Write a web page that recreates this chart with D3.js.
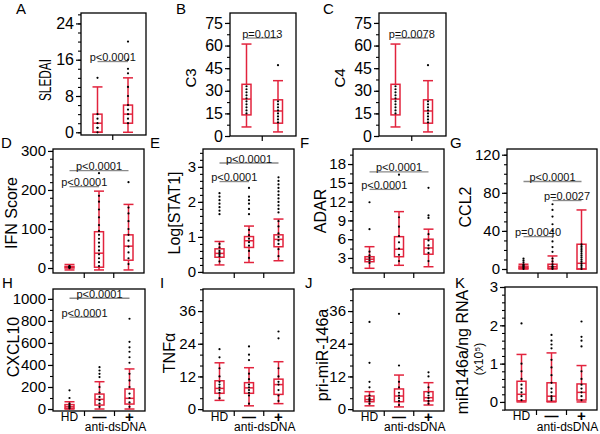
<!DOCTYPE html>
<html><head><meta charset="utf-8">
<script src="https://cdn.jsdelivr.net/npm/d3@7"></script>
<style>body{margin:0;background:#fff} svg{display:block}</style>
</head><body>
<script>
// ---------------- DATA ----------------
const groups2 = ["anti-dsDNA −", "anti-dsDNA +"];
const groups3 = ["HD", "anti-dsDNA −", "anti-dsDNA +"];
const xTickLabels = ["HD", "—", "+"];
const xGroupTitle = "anti-dsDNA";

// box stats: [lowWhisker, Q1, median, Q3, highWhisker]
const sledaiTicks = [0, 8, 16, 24];
const sledaiBox = [[0, 0, 2, 4, 10], [0, 2, 4, 6, 12]];
const sledaiPts = [[0, 1, 1, 2, 3, 4], [2, 3, 4, 5, 6, 8, 10]];
const sledaiOut = [[12], [13, 14, 16, 20]];
const sledaiP = [[0, 1, 15.6, "p<0.0001"]];

const c3Ticks = [0, 15, 30, 45, 60, 75];
const c3Box = [[6, 14, 24.5, 34.3, 61], [2.7, 8.5, 16.6, 24, 36.7]];
const c3Pts = [[15, 17, 19, 21, 23, 25, 27, 29, 31, 33], [9, 11, 13, 15, 17, 19, 21, 23]];
const c3Out = [[], [47]];
const c3P = [[0, 1, 65, "p=0.013"]];

const c4Ticks = [0, 15, 30, 45, 60, 75];
const c4Box = [[6, 14, 24.5, 34.3, 61], [2.7, 8.5, 16.6, 24, 36.7]];
const c4Pts = [[15, 17, 19, 21, 23, 25, 27, 29, 31, 33], [9, 11, 13, 15, 17, 19, 21, 23]];
const c4Out = [[], [47]];
const c4P = [[0, 1, 65, "p=0.0078"]];

const ifnTicks = [0, 100, 200, 300];
const ifnBox = [[-5, 0, 2, 4, 9], [-5, 2, 38, 93, 197], [-5, 20, 56, 85, 163]];
const ifnPts = [[0, 1, 2, 3, 4, 5], [5, 15, 25, 35, 45, 55, 65, 75, 85, 95, 110, 130, 150, 170, 185], [10, 25, 40, 55, 70, 85, 100, 120, 140, 155]];
const ifnOut = [[], [243], [220]];
const ifnP = [[0, 2, 249.5, "p<0.0001"], [0, 1, 208.5, "p<0.0001"]];

const stat1Ticks = [0, 1, 2, 3];
const stat1Box = [[0.2, 0.42, 0.53, 0.66, 0.87], [0.27, 0.7, 0.89, 1.01, 1.31], [0.32, 0.72, 0.93, 1.06, 1.51]];
const stat1Pts = [[0.3, 0.45, 0.5, 0.55, 0.6, 0.7, 0.8], [0.4, 0.6, 0.75, 0.85, 0.95, 1.05, 1.2], [0.45, 0.65, 0.8, 0.9, 1.0, 1.1, 1.3, 1.45]];
const stat1Out = [[1.65, 1.75, 1.85, 1.95, 2.05, 2.15, 2.25], [1.65, 1.8, 1.95, 2.05, 2.15, 2.4], [1.7, 1.8, 1.9, 2.0, 2.1, 2.2, 2.3, 2.4, 2.5, 2.6, 2.7]];
const stat1P = [[0, 2, 3.11, "p<0.0001"], [0, 1, 2.58, "p<0.0001"]];

const adarTicks = [3, 6, 9, 12, 15, 18];
const adarBox = [[1.35, 2.4, 2.8, 3.2, 4.8], [1.83, 3.2, 4.4, 6.4, 10.4], [1.6, 3.6, 4.6, 6.0, 7.6]];
const adarPts = [[2.2, 2.6, 3.0, 3.4, 4.0], [2.5, 3.5, 4.5, 5.5, 6.5, 8, 9.5], [2.5, 3.8, 4.5, 5, 5.8, 6.8]];
const adarOut = [[7.6, 11.9], [16.3], [9.4, 9.8, 14.2]];
const adarP = [[0, 2, 16.76, "p<0.0001"], [0, 1, 13.95, "p<0.0001"]];

const ccl2Ticks = [0, 40, 80, 120];
const ccl2Box = [[0, 0.5, 1.5, 3, 5], [0, 0.7, 2.5, 5, 13.7], [0, 0, 6, 26, 62]];
const ccl2Pts = [[0, 1, 2, 3, 4, 5], [0, 1, 2, 3, 5, 8, 11], [0, 2, 4, 6, 8, 10, 12, 14, 16, 18, 20, 22, 24, 26]];
const ccl2Out = [[7, 9, 11], [18, 23, 29, 34, 40, 47, 55, 62, 68], []];
const ccl2P = [[0, 2, 91.9, "p<0.0001"], [1, 2, 71.9, "p=0.0027"], [0, 1, 34, "p=0.0040"]];

const cxcl10Ticks = [0, 200, 400, 600, 800, 1000];
const cxcl10Box = [[0, 5, 20, 40, 66], [0, 36, 88, 136, 248], [0, 45, 97, 182, 364]];
const cxcl10Pts = [[5, 15, 25, 35, 50], [20, 50, 80, 110, 150, 200], [20, 60, 100, 140, 200, 260, 320]];
const cxcl10Out = [[100, 170], [290, 320, 350, 380], [420, 470, 520, 560, 610, 820]];
const cxcl10P = [[0, 2, 1006, "p<0.0001"], [0, 1, 834, "p<0.0001"]];

const tnfTicks = [0, 12, 24, 36];
const tnfBox = [[3.2, 5.8, 7.6, 10.4, 17], [1.2, 5.8, 7.8, 9.7, 15.2], [2, 5.4, 9, 11, 17.4]];
const tnfPts = [[4, 6, 7, 8, 9, 10, 12, 15], [2, 5, 6, 7, 8, 9, 11, 13], [3, 5, 7, 9, 10, 12, 15]];
const tnfOut = [[19, 22], [18, 20, 23], [26, 28.5]];

const primiTicks = [0, 12, 24, 36];
const primiBox = [[1.2, 2.7, 3.5, 4.8, 6.4], [0.8, 2.7, 4.8, 7.4, 12.5], [1.5, 3, 4.2, 6.4, 9.7]];
const primiPts = [[2, 3, 3.5, 4, 5], [1.5, 3, 4, 5, 6, 8, 10], [2, 3, 4, 5, 6, 8]];
const primiOut = [[8, 10, 17, 32], [16, 35], [12, 13.5]];

const mirTicks = [0, 1, 2, 3];
const mirBox = [[0, 0.03, 0.2, 0.54, 1.24], [0, 0.02, 0.15, 0.5, 1.28], [0, 0.05, 0.25, 0.47, 0.95]];
const mirPts = [[0.05, 0.15, 0.25, 0.35, 0.45, 0.6, 0.8, 1.0], [0.05, 0.1, 0.15, 0.25, 0.35, 0.5, 0.7, 0.9, 1.1], [0.05, 0.15, 0.25, 0.35, 0.45, 0.6, 0.8]];
const mirOut = [[2.05], [1.4, 1.5, 1.6, 1.75], [1.45, 1.6, 1.7, 2.1]];

// ---------------- DRAWING ----------------
const FONT = "'Liberation Sans', Arial, sans-serif";
const RED = "#e2233d";
const svg = d3.select("body").append("svg").attr("width", 600).attr("height", 434);

function drawPanel(o) {
  const g = svg.append("g");
  const [x0, y0, x1, y1] = o.frame;
  const y = d3.scaleLinear().domain(o.domain).range([y1, y0]);
  const x = d3.scalePoint().domain(o.groups)
    .range([x0 + 16.5, x1 - (o.groups.length === 2 ? 18 : 15.5)]);

  // minor ticks
  const kMin = Math.ceil(o.domain[0] / o.minor - 1e-9), kMax = Math.floor(o.domain[1] / o.minor + 1e-9);
  const minorVals = d3.range(kMin, kMax + 1).map(k => +(k * o.minor).toFixed(6));
  g.append("g").attr("transform", `translate(${x0},0)`)
    .call(d3.axisLeft(y).tickValues(minorVals).tickSize(3).tickFormat(""))
    .call(a => a.select(".domain").remove())
    .selectAll("line").attr("stroke", "#000").attr("stroke-width", 1.1);
  const ax = g.append("g").attr("transform", `translate(${x0},0)`)
    .call(d3.axisLeft(y).tickValues(o.ticks).tickSize(5).tickPadding(2).tickFormat(d => String(d)))
    .call(a => a.select(".domain").remove());
  ax.selectAll("line").attr("stroke", "#000").attr("stroke-width", 1.2);
  ax.selectAll("text").attr("font-size", o.fs).attr("font-family", FONT).attr("fill", "#000");

  // frame
  g.append("rect").attr("x", x0).attr("y", y0).attr("width", x1 - x0).attr("height", y1 - y0)
    .attr("fill", "none").attr("stroke", "#000").attr("stroke-width", 1.3);

  // x ticks between groups
  const xs = o.groups.map(d => x(d));
  for (let i = 0; i < xs.length - 1; i++) {
    const mx = (xs[i] + xs[i + 1]) / 2;
    g.append("line").attr("x1", mx).attr("x2", mx).attr("y1", y1).attr("y2", y1 + 5)
      .attr("stroke", "#000").attr("stroke-width", 1.2);
  }

  // boxes
  o.groups.forEach((gr, i) => {
    const cx = x(gr);
    const [lo, q1, md, q3, hi] = o.boxes[i];
    const bw = 9, cw = 10;
    const bg = g.append("g").attr("stroke", RED).attr("stroke-width", 1.5).attr("fill", "none");
    bg.append("line").attr("x1", cx).attr("x2", cx).attr("y1", y(hi)).attr("y2", y(q3));
    bg.append("line").attr("x1", cx).attr("x2", cx).attr("y1", y(q1)).attr("y2", y(lo));
    bg.append("line").attr("x1", cx - cw / 2).attr("x2", cx + cw / 2).attr("y1", y(hi)).attr("y2", y(hi));
    bg.append("line").attr("x1", cx - cw / 2).attr("x2", cx + cw / 2).attr("y1", y(lo)).attr("y2", y(lo));
    bg.append("rect").attr("x", cx - bw / 2).attr("y", y(q3)).attr("width", bw).attr("height", Math.max(1, y(q1) - y(q3)));
    bg.append("line").attr("x1", cx - bw / 2).attr("x2", cx + bw / 2).attr("y1", y(md)).attr("y2", y(md));
    const pts = o.pts[i].concat(o.out[i]);
    g.selectAll(null).data(pts).enter().append("circle")
      .attr("cx", cx).attr("cy", d => y(d)).attr("r", 1.1).attr("fill", "#000");
  });

  // significance bars
  (o.comps || []).forEach(([a, b, v, t]) => {
    const xa = xs[a], xb = xs[b], yy = y(v);
    g.append("line").attr("x1", xa).attr("x2", xb).attr("y1", yy).attr("y2", yy)
      .attr("stroke", "#8a8a8a").attr("stroke-width", 1.3);
    g.append("text").attr("x", (xa + xb) / 2).attr("y", yy - 0.5).attr("text-anchor", "middle")
      .attr("font-size", 11).attr("font-family", FONT).attr("fill", "#111").text(t);
  });

  // y label
  const yl = g.append("text").attr("transform", `translate(${o.lx},${o.ly}) rotate(-90)`)
    .attr("text-anchor", "middle").attr("dominant-baseline", "central")
    .attr("font-size", o.lfs || 16).attr("font-family", FONT).attr("fill", "#000").text(o.label);
  if (o.llen) yl.attr("textLength", o.llen).attr("lengthAdjust", "spacingAndGlyphs");
  if (o.label2) {
    g.append("text").attr("transform", `translate(${o.lx2},${o.ly2}) rotate(-90)`)
      .attr("text-anchor", "middle").attr("dominant-baseline", "central")
      .attr("font-size", 12).attr("font-family", FONT).attr("fill", "#000").text(o.label2);
  }

  // panel letter
  g.append("text").attr("x", o.px).attr("y", o.py).attr("font-size", 15)
    .attr("font-family", FONT).attr("fill", "#000").text(o.letter);

  // x labels (bottom row)
  if (o.xlabels) {
    g.append("text").attr("x", xs[0]).attr("y", y1 + 10).attr("text-anchor", "middle")
      .attr("font-size", 12).attr("font-family", FONT).text(xTickLabels[0]);
    g.append("text").attr("x", xs[1]).attr("y", y1 + 10.5).attr("text-anchor", "middle")
      .attr("font-size", 14).attr("font-weight", "bold").attr("font-family", FONT).text(xTickLabels[1]);
    g.append("text").attr("x", xs[2]).attr("y", y1 + 11).attr("text-anchor", "middle")
      .attr("font-size", 15).attr("font-weight", "bold").attr("font-family", FONT).text(xTickLabels[2]);
    g.append("text").attr("x", (xs[1] + xs[2]) / 2 + 1).attr("y", Math.min(y1 + 20.5, 431)).attr("text-anchor", "middle")
      .attr("font-size", 12).attr("font-family", FONT).text(xGroupTitle);
  }
}

drawPanel({letter: "A", px: 16, py: 14, frame: [81, 13, 146, 135], domain: [-0.6, 26.3], ticks: sledaiTicks, minor: 2, fs: 16,
  groups: groups2, boxes: sledaiBox, pts: sledaiPts, out: sledaiOut, comps: sledaiP, label: "SLEDAI", lx: 45, ly: 80, llen: 42, lfs: 16});
drawPanel({letter: "B", px: 176, py: 14, frame: [230, 13, 296, 136], domain: [0, 81.6], ticks: c3Ticks, minor: 7.5, fs: 16,
  groups: groups2, boxes: c3Box, pts: c3Pts, out: c3Out, comps: c3P, label: "C3", lx: 190, ly: 78, lfs: 15});
drawPanel({letter: "C", px: 323, py: 14, frame: [379, 13, 446, 136], domain: [0, 81.6], ticks: c4Ticks, minor: 7.5, fs: 16,
  groups: groups2, boxes: c4Box, pts: c4Pts, out: c4Out, comps: c4P, label: "C4", lx: 339, ly: 78, lfs: 15});

drawPanel({letter: "D", px: 1, py: 148, frame: [53, 149, 144, 273], domain: [-12.8, 305], ticks: ifnTicks, minor: 20, fs: 15,
  groups: groups3, boxes: ifnBox, pts: ifnPts, out: ifnOut, comps: ifnP, label: "IFN Score", lx: 11, ly: 213});
drawPanel({letter: "E", px: 150, py: 148, frame: [203, 149, 294, 273], domain: [-0.03, 3.51], ticks: stat1Ticks, minor: 0.2, fs: 15,
  groups: groups3, boxes: stat1Box, pts: stat1Pts, out: stat1Out, comps: stat1P, label: "Log[STAT1]", lx: 174, ly: 213});
drawPanel({letter: "F", px: 300, py: 148, frame: [353, 149, 444, 273], domain: [0.6, 20.4], ticks: adarTicks, minor: 1.5, fs: 15,
  groups: groups3, boxes: adarBox, pts: adarPts, out: adarOut, comps: adarP, label: "ADAR", lx: 320, ly: 211});
drawPanel({letter: "G", px: 450, py: 148, frame: [507, 149, 597, 273], domain: [-4.2, 126], ticks: ccl2Ticks, minor: 10, fs: 15,
  groups: groups3, boxes: ccl2Box, pts: ccl2Pts, out: ccl2Out, comps: ccl2P, label: "CCL2", lx: 465, ly: 207});

drawPanel({letter: "H", px: 2, py: 288, frame: [53, 289, 145, 411], domain: [-18, 1090], ticks: cxcl10Ticks, minor: 100, fs: 15,
  groups: groups3, boxes: cxcl10Box, pts: cxcl10Pts, out: cxcl10Out, comps: cxcl10P, label: "CXCL10", lx: 13, ly: 347, xlabels: true});
drawPanel({letter: "I", px: 160, py: 288, frame: [203, 289, 294, 411], domain: [-0.7, 44.1], ticks: tnfTicks, minor: 4, fs: 15,
  groups: groups3, boxes: tnfBox, pts: tnfPts, out: tnfOut, label: "TNFα", lx: 169, ly: 353, xlabels: true});
drawPanel({letter: "J", px: 305, py: 288, frame: [353, 289, 444, 411], domain: [-0.7, 44.1], ticks: primiTicks, minor: 4, fs: 15,
  groups: groups3, boxes: primiBox, pts: primiPts, out: primiOut, label: "pri-miR-146a", lx: 322, ly: 355, xlabels: true});
drawPanel({letter: "K", px: 455, py: 288, frame: [505, 287, 597, 410], domain: [-0.21, 3.0], ticks: mirTicks, minor: 0.2, fs: 15,
  groups: groups3, boxes: mirBox, pts: mirPts, out: mirOut, label: "miR146a/ng RNA", lx: 462, ly: 352, xlabels: true,
  label2: "(x10⁵)", lx2: 479, ly2: 359});
</script>
</body></html>
